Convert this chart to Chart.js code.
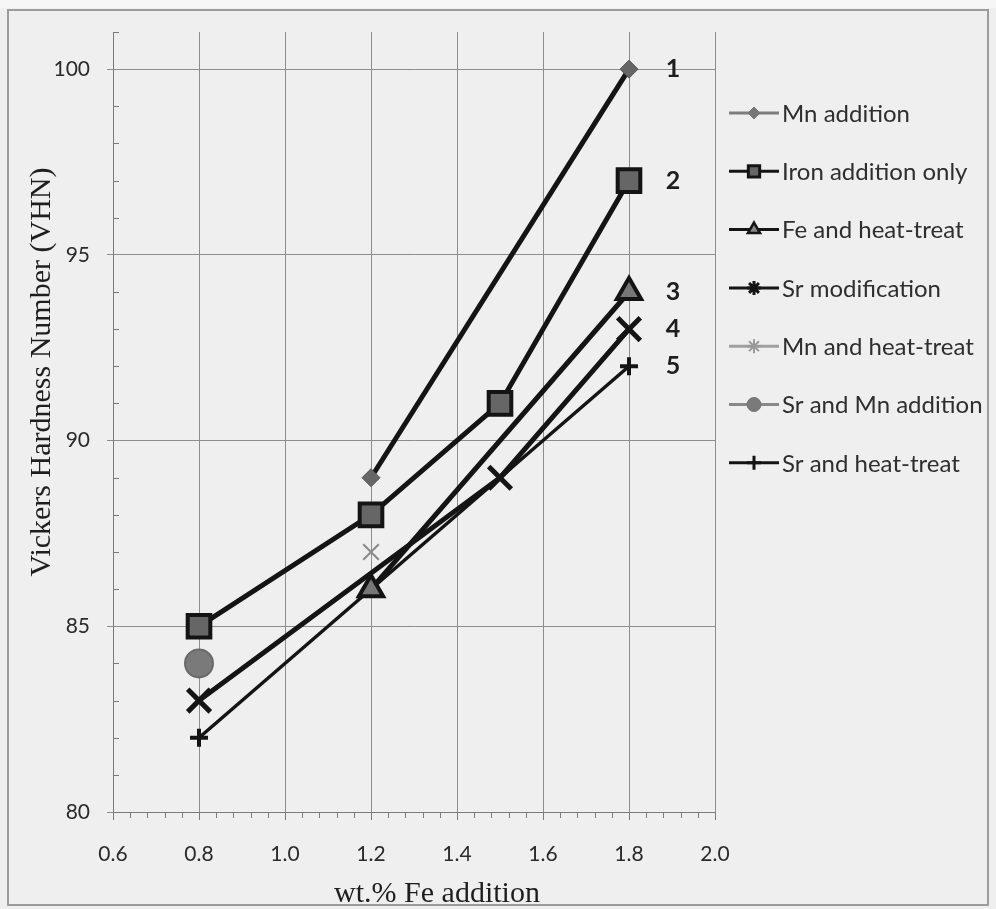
<!DOCTYPE html>
<html>
<head>
<meta charset="utf-8">
<title>Vickers hardness vs. Fe addition</title>
<script src="https://cdn.jsdelivr.net/npm/chart.js@4.4.1/dist/chart.umd.min.js"></script>
<style>
  html, body { margin: 0; padding: 0; background: #efefef; }
  #wrap { width: 996px; height: 909px; position: relative; }
</style>
</head>
<body>
<div id="wrap"><canvas id="chart" width="996" height="909"></canvas></div>
<script>
// wt.% Fe levels at which hardness was measured
const feLevels = [0.8, 1.2, 1.5, 1.8];

// Vickers hardness (VHN) per treatment; null = not measured at that Fe level
const mnAddition      = [null, 89, null, 100];
const ironOnly        = [85, 88, 91, 97];
const feHeatTreat     = [null, 86, null, 94];
const srModification  = [83, null, 89, 93];
const mnHeatTreat     = [null, 87, null, null];
const srMnAddition    = [84, null, null, null];
const srHeatTreat     = [82, null, null, 92];

const seriesNames = [
  'Mn addition', 'Iron addition only', 'Fe and heat-treat', 'Sr modification',
  'Mn and heat-treat', 'Sr and Mn addition', 'Sr and heat-treat'
];

const xTicks = [0.6, 0.8, 1.0, 1.2, 1.4, 1.6, 1.8, 2.0];
const yTicks = [80, 85, 90, 95, 100];

// curve numbers written beside the last point of a series
const curveNumbers = [
  { series: 0, text: '1' },
  { series: 1, text: '2' },
  { series: 2, text: '3' },
  { series: 3, text: '4' },
  { series: 6, text: '5' }
];

const toPoints = vals => vals
  .map((v, i) => (v === null ? null : { x: feLevels[i], y: v }))
  .filter(p => p !== null);

const INK = '#141414';

const datasets = [
  { label: seriesNames[0], data: toPoints(mnAddition),
    borderColor: '#7e7e7e', segment: { borderColor: INK }, borderWidth: 5,
    pointStyle: 'rectRot', pointRadius: 9, pointBackgroundColor: '#666', pointBorderColor: '#555', pointBorderWidth: 1,
    legendMarker: { pointStyle: 'rectRot', radius: 6, fill: '#777', stroke: '#777', width: 1 } },
  { label: seriesNames[1], data: toPoints(ironOnly),
    borderColor: INK, borderWidth: 5,
    pointStyle: 'rect', pointRadius: 16, pointBackgroundColor: '#666', pointBorderColor: INK, pointBorderWidth: 4,
    legendMarker: { pointStyle: 'rect', radius: 8, fill: '#666', stroke: INK, width: 3 } },
  { label: seriesNames[2], data: toPoints(feHeatTreat),
    borderColor: INK, borderWidth: 5,
    pointStyle: 'triangle', pointRadius: 14, pointBackgroundColor: '#777', pointBorderColor: INK, pointBorderWidth: 4,
    legendMarker: { pointStyle: 'triangle', radius: 7, fill: '#888', stroke: INK, width: 2.5 } },
  { label: seriesNames[3], data: toPoints(srModification),
    borderColor: INK, borderWidth: 5,
    pointStyle: 'crossRot', pointRadius: 16, pointBackgroundColor: INK, pointBorderColor: INK, pointBorderWidth: 5,
    legendMarker: { pointStyle: 'star', radius: 7, fill: INK, stroke: INK, width: 3 } },
  { label: seriesNames[4], data: toPoints(mnHeatTreat),
    borderColor: '#a0a0a0', borderWidth: 3,
    pointStyle: 'crossRot', pointRadius: 11, pointBackgroundColor: '#8a8a8a', pointBorderColor: '#8a8a8a', pointBorderWidth: 2,
    legendMarker: { pointStyle: 'star', radius: 7, fill: '#999', stroke: '#999', width: 2 } },
  { label: seriesNames[5], data: toPoints(srMnAddition),
    borderColor: '#888', borderWidth: 3,
    pointStyle: 'circle', pointRadius: 14, pointBackgroundColor: '#7a7a7a', pointBorderColor: '#6a6a6a', pointBorderWidth: 2,
    legendMarker: { pointStyle: 'circle', radius: 7, fill: '#7a7a7a', stroke: '#777', width: 1 } },
  { label: seriesNames[6], data: toPoints(srHeatTreat),
    borderColor: INK, borderWidth: 3.5,
    pointStyle: 'cross', pointRadius: 9, pointBackgroundColor: INK, pointBorderColor: INK, pointBorderWidth: 4,
    legendMarker: { pointStyle: 'cross', radius: 7, fill: INK, stroke: INK, width: 3 } }
];
datasets.forEach(d => { d.tension = 0; d.fill = false; d.spanGaps = true; });

// frame, minor ticks, axis titles, curve numbers and legend
const decor = {
  id: 'decor',
  beforeDraw(chart) {
    const c = chart.ctx;
    c.save();
    c.fillStyle = '#efefef';
    c.fillRect(0, 0, chart.width, chart.height);
    c.fillStyle = '#f6f6f6';
    c.fillRect(0, 0, chart.width, 8);
    c.strokeStyle = '#9c9c9c';
    c.lineWidth = 2;
    c.strokeRect(8, 10, 980, 895);
    c.restore();
  },
  afterDraw(chart) {
    const c = chart.ctx;
    const xs = chart.scales.x, ys = chart.scales.y;
    const area = chart.chartArea;
    c.save();

    // minor ticks
    c.strokeStyle = '#7a7a7a';
    c.lineWidth = 1;
    c.beginPath();
    for (let i = 0; i <= 35; i++) {
      if (i % 5 === 0) continue;
      const px = Math.round(xs.getPixelForValue(0.6 + i * 0.04)) + 0.5;
      c.moveTo(px, area.bottom);
      c.lineTo(px, area.bottom + 6);
    }
    for (let v = 81; v <= 101; v++) {
      if (v % 5 === 0) continue;
      const py = Math.round(ys.getPixelForValue(v)) + 0.5;
      c.moveTo(area.left, py);
      c.lineTo(area.left + 6, py);
    }
    c.stroke();

    // axis titles
    c.fillStyle = '#1e1e1e';
    c.font = '30px "Liberation Serif", "Times New Roman", serif';
    c.textAlign = 'center';
    c.textBaseline = 'alphabetic';
    c.fillText('wt.% Fe addition', 437, 902);
    c.save();
    c.translate(50, 372);
    c.rotate(-Math.PI / 2);
    c.fillText('Vickers Hardness Number (VHN)', 0, 0);
    c.restore();

    // curve numbers
    c.font = 'bold 25px Lato, "Open Sans", sans-serif';
    c.fillStyle = '#1e1e1e';
    c.textBaseline = 'middle';
    curveNumbers.forEach(n => {
      const pts = chart.getDatasetMeta(n.series).data;
      const last = pts[pts.length - 1];
      c.fillText(n.text, last.x + 44, last.y);
    });

    // legend
    c.textAlign = 'left';
    c.font = '24px Lato, "Open Sans", sans-serif';
    chart.data.datasets.forEach((ds, i) => {
      const y = 113 + i * 58.3;
      c.strokeStyle = ds.borderColor;
      c.lineWidth = 3;
      c.beginPath();
      c.moveTo(729, y);
      c.lineTo(779, y);
      c.stroke();
      const m = ds.legendMarker;
      c.fillStyle = m.fill;
      c.strokeStyle = m.stroke;
      c.lineWidth = m.width;
      Chart.helpers.drawPoint(c, { pointStyle: m.pointStyle, radius: m.radius, borderWidth: m.width, rotation: 0 }, 754, y);
      c.fillStyle = '#2e2e2e';
      c.fillText(ds.label, 782, y + 1);
    });
    c.restore();
  }
};

new Chart(document.getElementById('chart'), {
  type: 'line',
  data: { datasets },
  options: {
    responsive: false,
    animation: false,
    events: [],
    layout: { padding: { left: 22, right: 281, top: 32, bottom: 0 } },
    plugins: { legend: { display: false }, tooltip: { enabled: false } },
    scales: {
      x: {
        type: 'linear', min: 0.6, max: 2.0,
        afterBuildTicks: s => { s.ticks = xTicks.map(v => ({ value: v })); },
        afterFit: s => { s.height = 909 - 812; },
        ticks: { callback: v => Number(v).toFixed(1), color: '#2a2a2a', padding: 22, maxRotation: 0, autoSkip: false,
                 font: { family: 'Lato', size: 21 } },
        grid: { color: '#8c8c8c', lineWidth: 1, tickLength: 8, tickColor: '#7a7a7a' },
        border: { color: '#7a7a7a', width: 1 }
      },
      y: {
        min: 80, max: 101,
        afterBuildTicks: s => { s.ticks = yTicks.map(v => ({ value: v })); },
        afterFit: s => { s.width = 113 - 22; },
        ticks: { color: '#2a2a2a', padding: 17, font: { family: 'Lato', size: 21 } },
        grid: { color: '#8c8c8c', lineWidth: 1, tickLength: 6, tickColor: '#8c8c8c' },
        border: { color: '#7a7a7a', width: 1 }
      }
    }
  },
  plugins: [decor]
});
</script>
</body>
</html>
